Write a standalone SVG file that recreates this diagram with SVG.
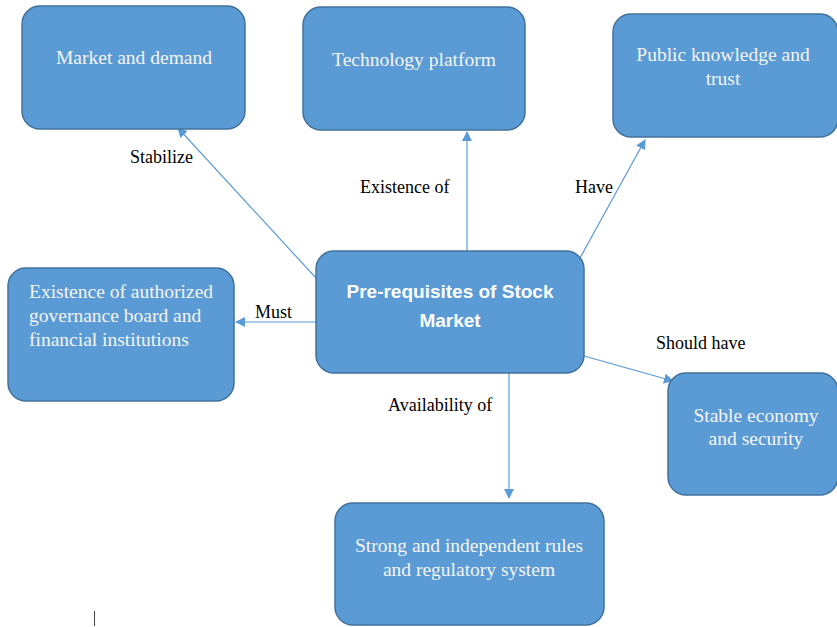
<svg xmlns="http://www.w3.org/2000/svg" width="837" height="627" viewBox="0 0 837 627">
<defs>
<style>
.box{fill:#5B9BD5;stroke:#41719C;stroke-width:1.5}
.bt{font-family:'Liberation Serif','DejaVu Serif','Times New Roman',serif;font-size:19.5px;fill:#F4F4F4;text-anchor:middle}
.ct{font-family:'Liberation Sans',Arial,sans-serif;font-size:19px;font-weight:bold;fill:#FFFFFF;text-anchor:middle}
.lb{font-family:'Liberation Serif','DejaVu Serif','Times New Roman',serif;font-size:18px;fill:#000000}
.cn{stroke:#5B9BD5;stroke-width:1.2;fill:none;marker-end:url(#ah)}
</style>
<marker id="ah" viewBox="0 0 10 10" refX="9" refY="5" markerWidth="10" markerHeight="10" markerUnits="userSpaceOnUse" orient="auto">
<path d="M0,0 L10,5 L0,10 z" fill="#5B9BD5"/>
</marker>
</defs>
<rect width="837" height="627" fill="#FFFFFF"/>
<g id="connectors">
<line class="cn" x1="316" y1="278" x2="178" y2="128"/>
<line class="cn" x1="467" y1="251" x2="467" y2="132"/>
<line class="cn" x1="580" y1="258" x2="645" y2="140"/>
<line class="cn" x1="316" y1="322" x2="236" y2="322"/>
<line class="cn" x1="584" y1="356" x2="673" y2="381"/>
<line class="cn" x1="509" y1="373" x2="509" y2="498"/>
</g>
<g id="labels">
<text class="lb" x="130" y="163">Stabilize</text>
<text class="lb" x="360" y="193">Existence of</text>
<text class="lb" x="575" y="193">Have</text>
<text class="lb" x="255" y="318">Must</text>
<text class="lb" x="656" y="349">Should have</text>
<text class="lb" x="388" y="411">Availability of</text>
</g>
<g id="market">
<rect class="box" x="22" y="6" width="223" height="123" rx="18"/>
<text class="bt" x="134" y="64">Market and demand</text>
</g>
<g id="technology">
<rect class="box" x="303" y="7" width="222" height="123" rx="18"/>
<text class="bt" x="414" y="66">Technology platform</text>
</g>
<g id="public">
<rect class="box" x="613" y="14" width="225" height="123" rx="18"/>
<text class="bt" x="723" y="61">Public knowledge and</text>
<text class="bt" x="723" y="85">trust</text>
</g>
<g id="governance">
<rect class="box" x="8" y="268" width="226" height="133" rx="18"/>
<text class="bt" x="29" y="298" style="text-anchor:start">Existence of authorized</text>
<text class="bt" x="29" y="322" style="text-anchor:start">governance board and</text>
<text class="bt" x="29" y="346" style="text-anchor:start">financial institutions</text>
</g>
<g id="center">
<rect class="box" x="316" y="251" width="268" height="122" rx="18"/>
<text class="ct" x="450" y="298">Pre-requisites of Stock</text>
<text class="ct" x="450" y="327">Market</text>
</g>
<g id="stable">
<rect class="box" x="668" y="373" width="170" height="122" rx="18"/>
<text class="bt" x="756" y="422">Stable economy</text>
<text class="bt" x="756" y="445">and security</text>
</g>
<g id="strong">
<rect class="box" x="335" y="503" width="269" height="122" rx="18"/>
<text class="bt" x="469" y="552">Strong and independent rules</text>
<text class="bt" x="469" y="576">and regulatory system</text>
</g>
<line x1="94.5" y1="611" x2="94.5" y2="626" stroke="#444444" stroke-width="1"/>
</svg>
